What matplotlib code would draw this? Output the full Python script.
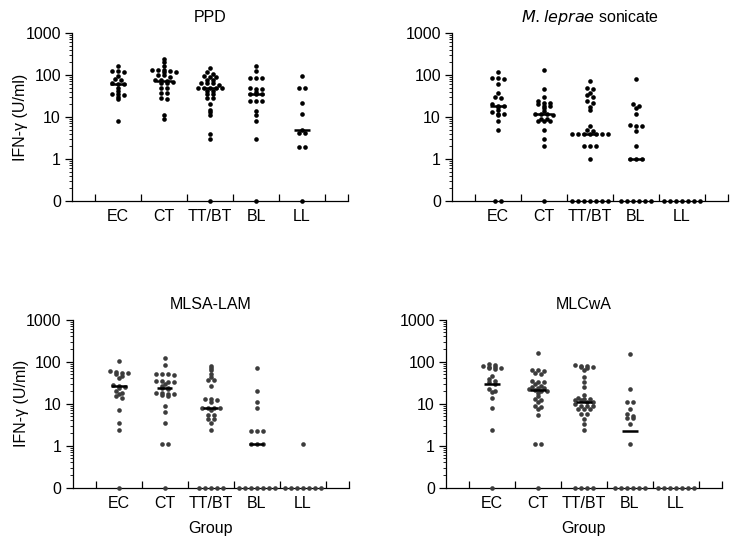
import numpy as np
import matplotlib
matplotlib.use("Agg")
import matplotlib.pyplot as plt
from matplotlib.ticker import FixedLocator, NullFormatter

plt.rcParams['font.family'] = ['Liberation Sans', 'DejaVu Sans']

groups = ["EC", "CT", "TT/BT", "BL", "LL"]

# IFN-gamma (U/ml) per patient, 0 = below detection
ppd = [
    [160, 125, 125, 115, 95, 80, 75, 65, 62, 60, 50, 42, 35, 35, 33, 30, 26, 8],
    [240, 200, 160, 130, 130, 130, 125, 120, 115, 100, 100, 90, 75, 75, 70, 68,
     65, 65, 50, 50, 38, 37, 28, 27, 11, 9],
    [150, 115, 105, 95, 88, 88, 76, 76, 63, 63, 63, 57, 50, 50, 50, 50, 50, 42,
     42, 36, 36, 28, 28, 20, 15, 13, 11, 4, 3, 0],
    [160, 125, 85, 85, 85, 50, 45, 45, 40, 35, 35, 35, 24, 24, 24, 14, 11, 8, 3, 0],
    [95, 48, 48, 21, 11.5, 5, 4.2, 4.2, 1.9, 1.9, 0],
]
ppd_med = [62, 70, 48, 35, 5]

sonic = [
    [115, 85, 85, 80, 60, 38, 30, 28, 20, 18, 18, 17, 15, 13, 12, 12, 11, 8, 4.8, 0, 0],
    [130, 45, 30, 24, 22, 22, 20, 18, 18, 16, 14, 12, 12, 12, 11, 9, 9, 8, 8, 8,
     5, 3, 2, 0],
    [73, 50, 45, 38, 33, 30, 24, 22, 17, 15, 6, 5, 4.5, 4, 4, 4, 4, 4, 4, 4,
     2, 2, 2, 1, 0, 0, 0, 0, 0, 0, 0],
    [80, 20, 18, 16, 11.5, 6.5, 6, 6, 4.7, 2, 1, 1, 1, 0, 0, 0, 0, 0, 0],
    [0, 0, 0, 0, 0, 0, 0],
]
sonic_med = [18, 12, 4, 1, None]

mlsa = [
    [105, 60, 58, 55, 55, 50, 45, 40, 28, 26, 25, 23, 20, 18, 17, 15, 14, 7, 3.4, 2.3, 0],
    [120, 85, 52, 52, 50, 48, 35, 34, 33, 32, 30, 26, 24, 23, 22, 18, 18, 17, 17,
     16, 15, 9, 6.5, 3.4, 1.1, 1.1, 0],
    [80, 70, 62, 50, 42, 36, 36, 27, 13, 13, 12, 11, 8, 8, 8, 8, 7, 5.5, 5.5,
     4.4, 4.4, 3.4, 2.3, 0, 0, 0, 0, 0],
    [72, 20, 11, 7.8, 2.2, 2.2, 2.2, 1.1, 1.1, 1.1, 0, 0, 0, 0, 0, 0, 0],
    [1.1, 0, 0, 0, 0, 0, 0, 0],
]
mlsa_med = [26, 23, 8, 1.1, None]

mlcwa = [
    [90, 85, 80, 75, 75, 72, 70, 68, 45, 38, 35, 33, 30, 22, 20, 19, 14, 8, 2.3, 0],
    [160, 65, 62, 60, 55, 50, 35, 33, 32, 30, 27, 25, 24, 23, 22, 21, 20, 20, 18,
     15, 13, 12, 11, 9, 8.5, 7.5, 5.5, 1.1, 1.1, 0],
    [85, 80, 78, 76, 75, 72, 62, 42, 32, 25, 16, 14, 13, 13, 12, 12, 11, 11, 10,
     9, 9, 9, 7.6, 7.6, 7.6, 5.7, 5.7, 4.4, 3.3, 2.3, 0, 0, 0, 0],
    [150, 22, 11, 11, 7.5, 5.6, 5.2, 4.5, 4.5, 3.2, 1.1, 0, 0, 0, 0, 0, 0],
    [0, 0, 0, 0, 0, 0, 0],
]
mlcwa_med = [30, 21, 11, 2.2, None]

ZERO = 0.1  # where "0" sits on the log axis
FS = 11.5


def spread(vals, step=0.13, tol=0.05):
    # put near-equal values side by side in one row
    v = np.sort(np.array(vals, float))[::-1]
    lv = np.log10(np.where(v > 0, v, ZERO))
    xs = np.zeros(len(v))
    i = 0
    while i < len(v):
        j = i + 1
        while j < len(v) and lv[i] - lv[j] < tol:
            j += 1
        n = j - i
        xs[i:j] = (np.arange(n) - (n - 1) / 2) * step
        i = j
    return xs, np.where(v > 0, v, ZERO)


def panel(ax, data, meds, title, color, left_label, bottom_label):
    for k, vals in enumerate(data):
        dx, yy = spread(vals)
        ax.scatter(k + 1 + dx, yy, s=11, color=color, lw=0, clip_on=False, zorder=3)
        if meds[k] is not None:
            ax.plot([k + 1 - 0.17, k + 1 + 0.17], [meds[k], meds[k]], color='black',
                    lw=1.8, solid_capstyle='butt', zorder=4)
    ax.set_yscale('log')
    ax.set_ylim(ZERO, 1000)
    ax.set_xlim(0, 6)
    ax.set_yticks([ZERO, 1, 10, 100, 1000])
    ax.set_yticklabels(["0", "1", "10", "100", "1000"])
    minors = [m * 10.0 ** e for e in range(-1, 3) for m in range(2, 10)]
    ax.yaxis.set_minor_locator(FixedLocator(minors))
    ax.yaxis.set_minor_formatter(NullFormatter())
    ax.tick_params(axis='y', which='major', length=5, width=0.9, labelsize=FS, pad=3)
    ax.tick_params(axis='y', which='minor', length=2.5, width=0.6)
    ax.set_xticks([1, 2, 3, 4, 5])
    ax.set_xticklabels(groups)
    ax.xaxis.set_minor_locator(FixedLocator([0.5, 1.5, 2.5, 3.5, 4.5, 5.5, 6]))
    ax.tick_params(axis='x', which='major', length=0, labelsize=FS, pad=6)
    ax.tick_params(axis='x', which='minor', direction='in', length=5, width=0.9)
    for s in ['top', 'right']:
        ax.spines[s].set_visible(False)
    for s in ['left', 'bottom']:
        ax.spines[s].set_linewidth(0.9)
    ax.set_title(title, fontsize=FS, pad=8)
    if left_label:
        ax.set_ylabel("IFN-γ (U/ml)", fontsize=FS, labelpad=-2)
    if bottom_label:
        ax.set_xlabel("Group", fontsize=FS, labelpad=7)


fig = plt.figure(figsize=(7.32, 5.4), dpi=100)
ax1 = fig.add_axes([0.0984, 0.628, 0.377, 0.311])
ax2 = fig.add_axes([0.6175, 0.628, 0.377, 0.311])
ax3 = fig.add_axes([0.0993, 0.097, 0.377, 0.311])
ax4 = fig.add_axes([0.6093, 0.097, 0.377, 0.311])

panel(ax1, ppd, ppd_med, "PPD", 'black', True, False)
panel(ax2, sonic, sonic_med, r"$\it{M. leprae}$ sonicate", 'black', False, False)
panel(ax3, mlsa, mlsa_med, "MLSA-LAM", '#3c3c3c', True, True)
panel(ax4, mlcwa, mlcwa_med, "MLCwA", '#3c3c3c', False, True)

fig.savefig("out.png", dpi=100)
